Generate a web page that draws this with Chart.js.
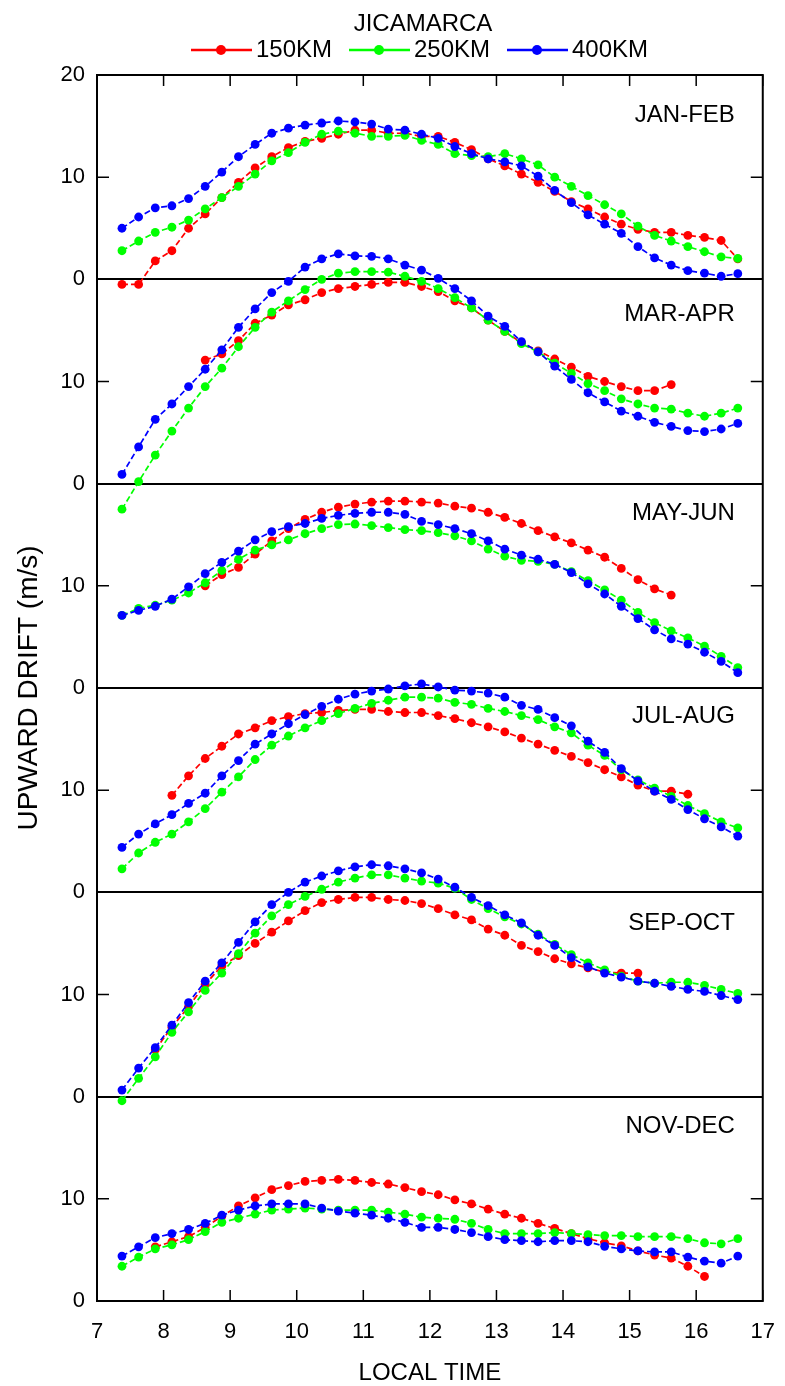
<!DOCTYPE html>
<html>
<head>
<meta charset="utf-8">
<title>Jicamarca upward drift</title>
<script src="https://cdn.jsdelivr.net/npm/chart.js"></script>
<style>
  html, body { margin: 0; padding: 0; background: #fff; }
  #wrap { width: 785px; height: 1386px; position: relative; }
</style>
</head>
<body>
<div id="wrap"><canvas id="driftChart" width="785" height="1386"></canvas></div>
<script>
// Local time of every sample (hours)
var hours = [7.375, 7.625, 7.875, 8.125, 8.375, 8.625, 8.875, 9.125, 9.375, 9.625,
             9.875, 10.125, 10.375, 10.625, 10.875, 11.125, 11.375, 11.625, 11.875, 12.125,
             12.375, 12.625, 12.875, 13.125, 13.375, 13.625, 13.875, 14.125, 14.375, 14.625,
             14.875, 15.125, 15.375, 15.625, 15.875, 16.125, 16.375, 16.625];

var panelNames = ['JAN-FEB', 'MAR-APR', 'MAY-JUN', 'JUL-AUG', 'SEP-OCT', 'NOV-DEC'];
var seriesLabels = ['150KM', '250KM', '400KM'];
var seriesColors = ['#ff0000', '#00ff00', '#0000ff'];

// x tick values and y tick values inside one panel
var xTicks = [7, 8, 9, 10, 11, 12, 13, 14, 15, 16, 17];
var panelTicks = [0, 10, 20];

// upward drift (m/s), one array per season and height
var janFeb150 = [-0.5, -0.5, 1.8, 2.8, 5.0, 6.4, 8.0, 9.5, 10.9, 12.0, 12.9, 13.5, 13.8, 14.2, 14.6, 14.6, 14.3, 14.3, 14.0,
                 14.0, 13.4, 12.7, 11.8, 11.1, 10.3, 9.5, 8.6, 7.6, 6.9, 6.1, 5.4, 4.9, 4.6, 4.6, 4.3, 4.1, 3.8, 2.0];
var janFeb250 = [2.8, 3.75, 4.6, 5.1, 5.8, 6.9, 8.0, 9.1, 10.3, 11.6, 12.4, 13.4, 14.2, 14.5, 14.3, 14.0, 14.0, 14.1, 13.6,
                 13.2, 12.3, 12.1, 12.0, 12.3, 11.8, 11.2, 10.0, 9.1, 8.2, 7.3, 6.4, 5.2, 4.3, 3.75, 3.2, 2.7, 2.2, 2.05];
var janFeb400 = [5.0, 6.1, 7.0, 7.2, 7.9, 9.1, 10.5, 12.0, 13.2, 14.3, 14.8, 15.1, 15.3, 15.5, 15.4, 15.2, 14.7, 14.6, 14.2,
                 13.8, 13.0, 12.3, 11.8, 11.5, 11.1, 10.1, 8.7, 7.5, 6.3, 5.4, 4.5, 3.2, 2.1, 1.4, 0.85, 0.6, 0.3, 0.55];

var marApr150 = [null, null, null, null, null, 12.1, 12.7, 14.0, 15.7, 16.5, 17.5, 18.0, 18.7, 19.1, 19.3, 19.5, 19.7, 19.7, 19.3,
                 18.8, 17.9, 17.2, 16.0, 14.9, 13.8, 13.0, 12.2, 11.4, 10.5, 10.0, 9.5, 9.1, 9.1, 9.7, null, null, null, null];
var marApr250 = [-2.5, 0.2, 2.8, 5.15, 7.4, 9.5, 11.3, 13.4, 15.3, 16.8, 17.9, 19.0, 20.0, 20.6, 20.75, 20.75, 20.7, 20.3, 19.8,
                 19.1, 18.2, 17.2, 16.0, 14.9, 13.7, 12.9, 11.8, 10.8, 9.8, 9.1, 8.3, 7.8, 7.4, 7.3, 6.9, 6.6, 6.9, 7.4];
var marApr400 = [0.9, 3.6, 6.3, 7.8, 9.5, 11.2, 13.1, 15.3, 17.1, 18.7, 19.8, 21.2, 22.0, 22.5, 22.3, 22.25, 22.0, 21.4, 20.9,
                 20.1, 19.1, 17.9, 16.4, 15.4, 13.9, 12.9, 11.5, 10.2, 8.9, 8.0, 7.1, 6.6, 6.0, 5.6, 5.2, 5.1, 5.35, 5.9];

var mayJun150 = [null, null, null, null, null, 10.0, 11.1, 11.8, 13.1, 14.4, 15.6, 16.5, 17.2, 17.7, 18.0, 18.2, 18.3, 18.3, 18.2,
                 18.1, 17.8, 17.6, 17.2, 16.7, 16.1, 15.4, 14.8, 14.2, 13.5, 12.8, 11.7, 10.6, 9.7, 9.1, null, null, null, null];
var mayJun250 = [7.1, 7.8, 8.1, 8.6, 9.3, 10.3, 11.5, 12.6, 13.5, 14.0, 14.5, 15.1, 15.6, 16.0, 16.05, 15.9, 15.7, 15.5, 15.4,
                 15.2, 14.9, 14.4, 13.6, 12.9, 12.5, 12.4, 12.1, 11.4, 10.5, 9.6, 8.6, 7.4, 6.4, 5.6, 4.9, 4.1, 3.1, 2.0];
var mayJun400 = [7.1, 7.6, 8.0, 8.7, 9.9, 11.2, 12.3, 13.4, 14.5, 15.3, 15.8, 16.1, 16.6, 16.9, 17.1, 17.2, 17.2, 17.0, 16.3,
                 16.0, 15.6, 15.1, 14.4, 13.6, 13.0, 12.6, 12.1, 11.3, 10.2, 9.2, 8.0, 6.8, 5.7, 4.8, 4.3, 3.5, 2.6, 1.5];

var julAug150 = [null, null, null, 9.5, 11.4, 13.1, 14.3, 15.5, 16.1, 16.8, 17.2, 17.5, 17.6, 17.8, 17.9, 17.9, 17.7, 17.6, 17.6,
                 17.3, 17.0, 16.6, 16.2, 15.7, 15.1, 14.5, 13.9, 13.3, 12.7, 12.0, 11.3, 10.5, 9.9, 9.9, 9.6, null, null, null];
var julAug250 = [2.3, 3.85, 4.9, 5.7, 6.9, 8.2, 9.8, 11.3, 13.0, 14.4, 15.3, 16.1, 16.8, 17.5, 18.0, 18.5, 18.8, 19.1, 19.1,
                 19.0, 18.6, 18.4, 18.0, 17.7, 17.3, 16.9, 16.2, 15.6, 14.4, 13.4, 12.0, 11.0, 10.2, 9.4, 8.5, 7.7, 6.9, 6.3];
var julAug400 = [4.4, 5.7, 6.7, 7.6, 8.7, 9.7, 11.4, 12.9, 14.5, 15.5, 16.5, 17.4, 18.2, 18.9, 19.4, 19.7, 19.9, 20.2, 20.4,
                 20.1, 19.8, 19.7, 19.5, 19.1, 18.3, 17.9, 17.1, 16.3, 14.8, 13.7, 12.1, 10.9, 9.9, 9.1, 8.1, 7.2, 6.4, 5.5];

var sepOct150 = [null, null, 4.6, 6.8, 8.8, 11.0, 12.8, 13.8, 15.0, 16.1, 17.2, 18.2, 19.0, 19.3, 19.5, 19.5, 19.3, 19.2, 18.9,
                 18.4, 17.8, 17.3, 16.4, 15.8, 14.8, 14.2, 13.5, 13.0, 12.6, 12.2, 12.1, 12.1, null, null, null, null, null, null];
var sepOct250 = [-0.4, 1.8, 3.9, 6.3, 8.3, 10.4, 12.1, 14.0, 16.0, 17.7, 18.8, 19.6, 20.3, 21.0, 21.4, 21.7, 21.7, 21.4, 21.1,
                 20.9, 20.4, 19.3, 18.4, 17.6, 16.9, 15.9, 14.9, 13.9, 13.1, 12.4, 11.8, 11.3, 11.1, 11.2, 11.2, 10.9, 10.5, 10.1];
var sepOct400 = [0.65, 2.8, 4.8, 7.0, 9.2, 11.3, 13.1, 15.1, 17.1, 18.8, 20.0, 21.0, 21.6, 22.1, 22.5, 22.7, 22.6, 22.3, 21.9,
                 21.3, 20.5, 19.5, 18.7, 17.8, 17.0, 15.8, 14.8, 13.6, 12.7, 12.1, 11.7, 11.3, 11.1, 10.8, 10.5, 10.3, 9.9, 9.5];

var novDec150 = [null, null, 5.3, 5.8, 6.3, 7.2, 8.3, 9.3, 10.1, 10.9, 11.3, 11.7, 11.8, 11.9, 11.8, 11.6, 11.45, 11.1, 10.7,
                 10.4, 9.9, 9.5, 9.0, 8.5, 8.1, 7.6, 7.1, 6.6, 6.1, 5.7, 5.4, 4.9, 4.5, 4.2, 3.4, 2.4, null, null];
var novDec250 = [3.4, 4.3, 5.1, 5.5, 6.0, 6.8, 7.7, 8.1, 8.5, 8.9, 9.0, 9.1, 9.0, 8.9, 8.9, 8.9, 8.7, 8.5, 8.2,
                 8.1, 8.0, 7.6, 7.0, 6.6, 6.6, 6.6, 6.7, 6.6, 6.5, 6.4, 6.4, 6.3, 6.3, 6.3, 6.1, 5.7, 5.6, 6.1];
var novDec400 = [4.4, 5.3, 6.2, 6.6, 7.0, 7.6, 8.4, 8.9, 9.3, 9.5, 9.5, 9.5, 9.1, 8.8, 8.6, 8.4, 8.1, 7.7, 7.2,
                 7.2, 7.0, 6.7, 6.3, 6.0, 5.9, 5.8, 5.9, 5.9, 5.8, 5.35, 5.1, 4.9, 4.8, 4.8, 4.3, 3.9, 3.7, 4.4];

var panelSeries = [
    [janFeb150, janFeb250, janFeb400],
    [marApr150, marApr250, marApr400],
    [mayJun150, mayJun250, mayJun400],
    [julAug150, julAug250, julAug400],
    [sepOct150, sepOct250, sepOct400],
    [novDec150, novDec250, novDec400]
];

// where the season name sits inside its panel (panel units)
var panelLabelLevel = [16.0, 16.6, 17.1, 17.2, 17.0, 17.1];

var PANEL_SPAN = 20;
var FONT = '"Liberation Sans", Arial, sans-serif';
var nPanels = panelNames.length;
var yMax = nPanels * PANEL_SPAN;

// Stack the panels on one y scale: each panel is shifted up by its base
var datasets = [];
panelSeries.forEach(function (trio, p) {
    var base = (nPanels - 1 - p) * PANEL_SPAN;
    trio.forEach(function (vals, s) {
        datasets.push({
            label: seriesLabels[s] + ' ' + panelNames[p],
            data: vals.map(function (v, i) {
                return { x: hours[i], y: v === null ? null : v + base };
            }),
            borderColor: seriesColors[s],
            backgroundColor: seriesColors[s],
            pointBackgroundColor: seriesColors[s],
            pointBorderWidth: 0,
            pointRadius: 4.4,
            borderWidth: 1.7,
            borderDash: [6, 3],
            tension: 0,
            spanGaps: false,
            order: 2 - s   // blue on top, red at the bottom
        });
    });
});

// Inward tick marks, the closing frame and season names
var frameTicks = {
    id: 'frameTicks',
    afterDraw: function (chart) {
        var ctx = chart.ctx;
        var area = chart.chartArea;
        var xs = chart.scales.x;
        var ys = chart.scales.y;
        ctx.save();
        ctx.strokeStyle = '#000';
        ctx.lineWidth = 2;
        ctx.strokeRect(area.left, area.top, area.right - area.left, area.bottom - area.top);

        ctx.lineWidth = 1.5;
        ctx.beginPath();
        xTicks.forEach(function (t) {
            var px = xs.getPixelForValue(t);
            ctx.moveTo(px, area.bottom);
            ctx.lineTo(px, area.bottom - 11);
            ctx.moveTo(px, area.top);
            ctx.lineTo(px, area.top + 11);
        });
        for (var p = 0; p < nPanels; p++) {
            var py = ys.getPixelForValue(p * PANEL_SPAN + panelTicks[1]);
            ctx.moveTo(area.left, py);
            ctx.lineTo(area.left + 12, py);
            ctx.moveTo(area.right, py);
            ctx.lineTo(area.right - 12, py);
        }
        ctx.stroke();

        ctx.fillStyle = '#000';
        ctx.font = '24px ' + FONT;
        ctx.textAlign = 'right';
        ctx.textBaseline = 'middle';
        panelNames.forEach(function (name, p) {
            var base = (nPanels - 1 - p) * PANEL_SPAN;
            ctx.fillText(name, xs.getPixelForValue(16.58), ys.getPixelForValue(base + panelLabelLevel[p]));
        });
        ctx.restore();
    }
};

// Title and legend (line with a dot, then the height)
var legendBlock = {
    id: 'legendBlock',
    afterDraw: function (chart) {
        var ctx = chart.ctx;
        ctx.save();
        ctx.fillStyle = '#000';
        ctx.font = '24px ' + FONT;
        ctx.textAlign = 'center';
        ctx.textBaseline = 'middle';
        ctx.fillText('JICAMARCA', 423, 24);

        var starts = [191, 349, 507];
        var ly = 50;
        ctx.textAlign = 'left';
        seriesLabels.forEach(function (lab, s) {
            var x0 = starts[s];
            ctx.strokeStyle = seriesColors[s];
            ctx.lineWidth = 2.5;
            ctx.beginPath();
            ctx.moveTo(x0, ly);
            ctx.lineTo(x0 + 61, ly);
            ctx.stroke();
            ctx.fillStyle = seriesColors[s];
            ctx.beginPath();
            ctx.arc(x0 + 30, ly, 5, 0, Math.PI * 2);
            ctx.fill();
            ctx.fillStyle = '#000';
            ctx.fillText(lab, x0 + 65, ly);
        });
        ctx.restore();
    }
};

new Chart(document.getElementById('driftChart'), {
    type: 'line',
    data: { datasets: datasets },
    options: {
        responsive: false,
        animation: false,
        events: [],
        layout: { padding: { left: 0, right: 18, top: 75, bottom: 0 } },
        plugins: {
            legend: { display: false },
            title: { display: false },
            tooltip: { enabled: false }
        },
        scales: {
            x: {
                type: 'linear',
                min: 7,
                max: 17,
                afterFit: function (scale) { scale.height = 85; },
                afterBuildTicks: function (scale) {
                    scale.ticks = xTicks.map(function (v) { return { value: v }; });
                },
                ticks: {
                    padding: 10,
                    color: '#000',
                    font: { family: FONT, size: 22 },
                    maxRotation: 0,
                    callback: function (v) { return v; }
                },
                grid: { display: false },
                border: { display: true, color: '#000', width: 2 },
                title: {
                    display: true,
                    text: 'LOCAL TIME',
                    color: '#000',
                    font: { family: FONT, size: 24, lineHeight: 1 },
                    padding: { top: 0, bottom: 1 }
                }
            },
            y: {
                type: 'linear',
                min: 0,
                max: yMax,
                afterFit: function (scale) { scale.width = 97; },
                afterBuildTicks: function (scale) {
                    var t = [];
                    for (var p = 0; p < nPanels; p++) {
                        t.push({ value: p * PANEL_SPAN + panelTicks[0] });
                        t.push({ value: p * PANEL_SPAN + panelTicks[1] });
                    }
                    t.push({ value: yMax });
                    scale.ticks = t;
                },
                ticks: {
                    padding: 12,
                    color: '#000',
                    font: { family: FONT, size: 22 },
                    callback: function (v) {
                        if (v === yMax) return String(panelTicks[2]);
                        return String(v % PANEL_SPAN);
                    }
                },
                grid: {
                    drawTicks: false,
                    lineWidth: 2,
                    color: function (c) {
                        return c.tick && c.tick.value % PANEL_SPAN === 0 ? '#000' : 'rgba(0,0,0,0)';
                    }
                },
                border: { display: true, color: '#000', width: 2 },
                title: {
                    display: true,
                    text: 'UPWARD DRIFT (m/s)',
                    color: '#000',
                    font: { family: FONT, size: 28, lineHeight: 1 },
                    padding: { top: 15, bottom: 0 }
                }
            }
        }
    },
    plugins: [frameTicks, legendBlock]
});
</script>
</body>
</html>
